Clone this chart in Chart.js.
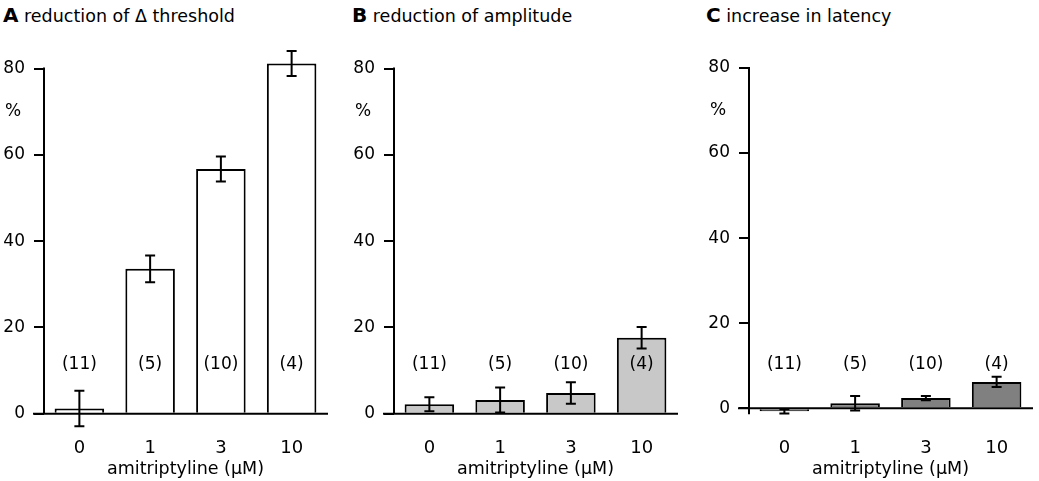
<!DOCTYPE html>
<html>
<head>
<meta charset="utf-8">
<script src="https://cdn.jsdelivr.net/npm/chart.js@4"></script>
<style>
  body { margin: 0; background: #fff; width: 1039px; height: 481px; position: relative; overflow: hidden; font-family: "DejaVu Sans", sans-serif; }
  canvas { position: absolute; top: 0; }
  .ttl { position: absolute; top: 3px; font-size: 17.5px; color: #000; white-space: nowrap; }
  .ttl b { font-size: 20px; }
</style>
</head>
<body>
<div class="ttl" style="left:3px"><b>A</b> reduction of Δ threshold</div>
<div class="ttl" style="left:352px"><b>B</b> reduction of amplitude</div>
<div class="ttl" style="left:706px"><b>C</b> increase in latency</div>
<canvas id="chartA" width="340" height="481" style="left:0px"></canvas>
<canvas id="chartB" width="340" height="481" style="left:350px"></canvas>
<canvas id="chartC" width="334" height="481" style="left:705px"></canvas>
<script>
// amitriptyline concentrations (µM) and number of experiments
const categories = ["0", "1", "3", "10"];
const nCounts = ["(11)", "(5)", "(10)", "(4)"];
const yTicks = [0, 20, 40, 60, 80];

// A: reduction of delta threshold (%)
const thresholdMean = [1.2, 33.6, 56.7, 81.2];
const thresholdErr = [4.1, 3.1, 2.9, 2.9];

// B: reduction of amplitude (%)
const amplitudeMean = [2.2, 3.2, 4.8, 17.6];
const amplitudeErr = [1.6, 2.9, 2.5, 2.5];

// C: increase in latency (%)
const latencyMean = [-0.7, 1.2, 2.4, 6.2];
const latencyErr = [0.5, 1.7, 0.5, 1.2];

const FONT = "DejaVu Sans";

// axis line, baseline, error bars, n labels and the "%" mark
const panelExtras = {
  id: "panelExtras",
  afterDatasetsDraw(chart) {
    const { ctx, chartArea: a, scales: { x, y } } = chart;
    const p = chart.options.plugins.panelExtras;
    const y0 = y.getPixelForValue(0);
    ctx.save();
    ctx.strokeStyle = "#000";
    ctx.lineWidth = 2;
    ctx.beginPath();
    ctx.moveTo(a.left, y.getPixelForValue(80) - 1);
    ctx.lineTo(a.left, y0 + p.axisTail);
    ctx.moveTo(a.left - 11, y0);
    ctx.lineTo(a.right + 1, y0);
    ctx.stroke();

    const meta = chart.getDatasetMeta(0);
    p.mean.forEach((v, i) => {
      const cx = meta.data[i].x;
      const top = y.getPixelForValue(v + p.err[i]);
      const bot = y.getPixelForValue(v - p.err[i]);
      ctx.beginPath();
      ctx.moveTo(cx, top); ctx.lineTo(cx, bot);
      ctx.moveTo(cx - 5, top); ctx.lineTo(cx + 5, top);
      ctx.moveTo(cx - 5, bot); ctx.lineTo(cx + 5, bot);
      ctx.stroke();
    });

    ctx.fillStyle = "#000";
    ctx.font = "17px '" + FONT + "'";
    ctx.textAlign = "center";
    ctx.textBaseline = "middle";
    nCounts.forEach((s, i) => ctx.fillText(s, x.getPixelForValue(i), y.getPixelForValue(p.nAt)));
    ctx.fillText("%", a.left - 31, y.getPixelForValue(70));
    ctx.restore();
  }
};

function makePanel(id, mean, err, color, cfg) {
  const canvas = document.getElementById(id);
  return new Chart(canvas, {
    type: "bar",
    data: {
      labels: categories,
      datasets: [{
        data: mean,
        backgroundColor: color,
        borderColor: "#000",
        borderWidth: 2,
        barPercentage: 0.7,
        categoryPercentage: 1
      }]
    },
    options: {
      responsive: false,
      devicePixelRatio: 1,
      animation: false,
      layout: { padding: { left: 0, right: canvas.width - 44 - 283, top: cfg.padTop, bottom: 0 } },
      plugins: {
        legend: { display: false },
        tooltip: { enabled: false },
        panelExtras: { mean: mean, err: err, nAt: cfg.nAt, axisTail: cfg.axisTail }
      },
      scales: {
        x: {
          type: "category",
          offset: true,
          grid: { display: false, drawTicks: false },
          border: { display: false },
          ticks: { color: "#000", font: { family: FONT, size: 18 }, padding: cfg.tickPad },
          title: {
            display: true,
            text: "amitriptyline (μM)",
            color: "#000",
            font: { family: FONT, size: 17.5 },
            padding: { top: 0, bottom: 1 }
          },
          afterFit: s => { s.height = cfg.xHeight; }
        },
        y: {
          min: cfg.yMin,
          max: 85,
          afterBuildTicks: s => { s.ticks = yTicks.map(v => ({ value: v })); },
          grid: { drawOnChartArea: false, drawTicks: true, tickLength: 10, color: "#000", lineWidth: 2 },
          border: { display: false },
          ticks: { color: "#000", font: { family: FONT, size: 17 }, padding: 9 },
          afterFit: s => { s.width = 44; }
        }
      }
    },
    plugins: [panelExtras]
  });
}

makePanel("chartA", thresholdMean, thresholdErr, "#ffffff",
  { yMin: -5, padTop: 47, xHeight: 45.7, tickPad: 2, nAt: 11.3, axisTail: 0 });
makePanel("chartB", amplitudeMean, amplitudeErr, "#c8c8c8",
  { yMin: -5, padTop: 47, xHeight: 45.7, tickPad: 2, nAt: 11.3, axisTail: 0 });
makePanel("chartC", latencyMean, latencyErr, "#808080",
  { yMin: -6.35, padTop: 46.7, xHeight: 45.7, tickPad: 2, nAt: 10.2, axisTail: 6 });
</script>
</body>
</html>
